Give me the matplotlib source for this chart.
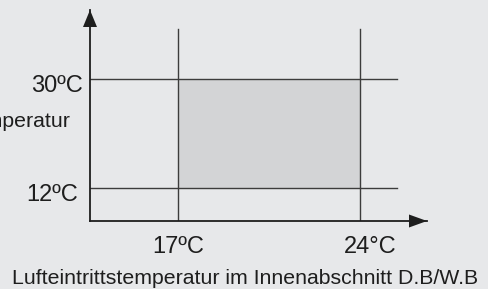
import matplotlib
matplotlib.use("Agg")
import matplotlib.pyplot as plt
from matplotlib.patches import Rectangle, Polygon
from matplotlib.transforms import offset_copy

# range of operation (indoor inlet temp x, outdoor temp y)
x_limits = [17, 24]
y_limits = [12, 30]
x_labels = ["17ºC", "24°C"]
y_labels = ["12ºC", "30ºC"]
x_title = "Lufteintrittstemperatur im Innenabschnitt D.B/W.B"
y_title = "Außentemperatur"

bg = "#e7e8ea"
ink = "#1e1e1e"
W, H = 489, 289

plt.rcParams["font.family"] = ["Liberation Sans", "DejaVu Sans"]

fig = plt.figure(figsize=(W / 100, H / 100), dpi=100, facecolor=bg)
# axes box from origin (90, 221) px to arrow tips (427, 10) px
ax = fig.add_axes([90 / W, (H - 221) / H, (427 - 90) / W, (221 - 10) / H])
ax.set_facecolor(bg)

# 26 px per degree on x, 109/18 px per degree on y
px_y = 109 / 18
ax.set_xlim(17 - 88 / 26, 24 + 67 / 26)
ax.set_ylim(12 - 33 / px_y, 30 + 69 / px_y)
x0, x1 = ax.get_xlim()
y0, y1 = ax.get_ylim()
line_top = 30 + 50 / px_y
line_right = 17 + 219 / 26

ax.add_patch(Rectangle((x_limits[0], y_limits[0]), x_limits[1] - x_limits[0],
                       y_limits[1] - y_limits[0], facecolor="#d3d4d6",
                       edgecolor="none", zorder=1))

for xv in x_limits:
    ax.plot([xv, xv], [y0, line_top], color="#3c3c3c", lw=1.0, zorder=2)
for yv in y_limits:
    ax.plot([x0, line_right], [yv, yv], color="#3c3c3c", lw=1.0, zorder=2)

for s in ["top", "right"]:
    ax.spines[s].set_visible(False)
for s in ["left", "bottom"]:
    ax.spines[s].set_color(ink)
    ax.spines[s].set_linewidth(1.3)
ax.set_xticks([])
ax.set_yticks([])

# arrow heads, in pixels from the axis tips
fig.canvas.draw()
tx, ty = ax.transAxes.transform((1, 0))
ux, uy = ax.transAxes.transform((0, 1))
fig.add_artist(Polygon([[tx, ty], [tx - 18, ty + 6.5], [tx - 18, ty - 6.5]],
                       closed=True, transform=None, color=ink, lw=0))
fig.add_artist(Polygon([[ux, uy], [ux - 7, uy - 17], [ux + 7, uy - 17]],
                       closed=True, transform=None, color=ink, lw=0))

# tick labels
x_dx = [0, 10]
y_dx = [-12, -7]
for xv, lab, dx in zip(x_limits, x_labels, x_dx):
    ax.text(xv, y0, lab, ha="center", va="baseline", fontsize=17, color=ink,
            transform=offset_copy(ax.transData, fig, x=dx, y=-32, units="dots"))
for yv, lab, dx in zip(y_limits, y_labels, y_dx):
    ax.text(x0, yv, lab, ha="right", va="baseline", fontsize=17, color=ink,
            transform=offset_copy(ax.transData, fig, x=dx, y=-13, units="dots"))

fig.text(245.5 / W, 1 - 284 / H, x_title, ha="center", va="baseline",
         fontsize=15.3, color=ink)
fig.text(71 / W, 1 - 127 / H, y_title, ha="right", va="baseline",
         fontsize=15.3, color=ink)

fig.savefig("out.png", dpi=100, facecolor=bg)
